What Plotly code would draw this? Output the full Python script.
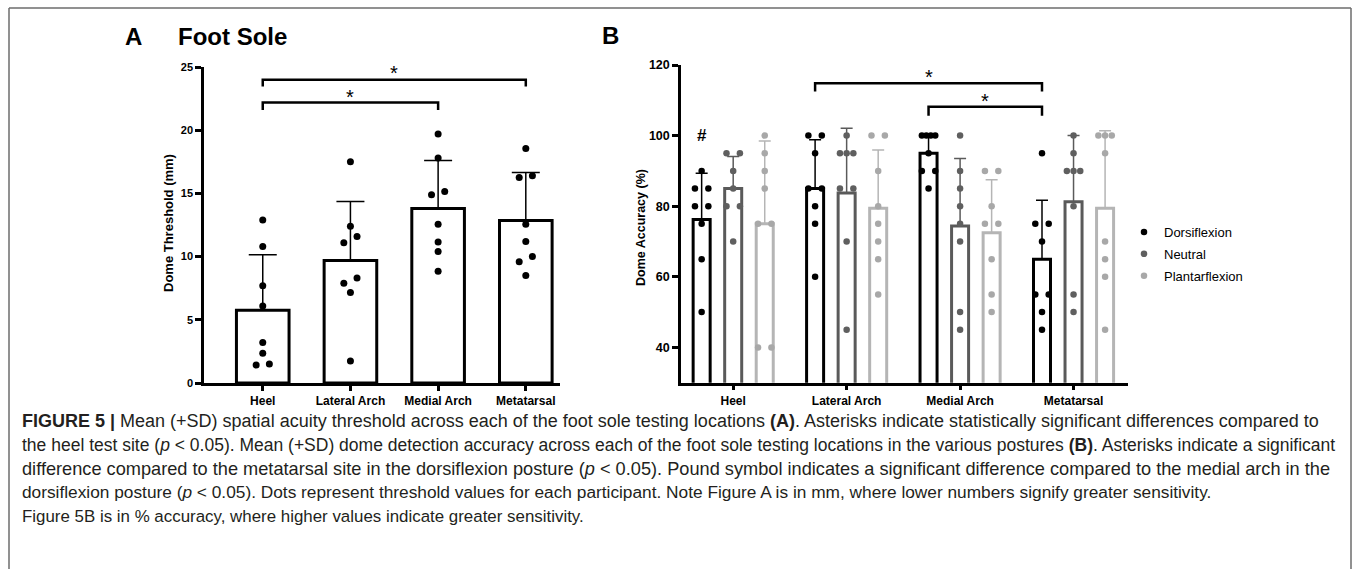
import numpy as np
import plotly.graph_objects as go

# ---------------- data ----------------
locations = ["Heel", "Lateral Arch", "Medial Arch", "Metatarsal"]

# Panel A: dome threshold (mm)
a_mean = [5.75, 9.7, 13.8, 12.85]
a_sd = [4.4, 4.65, 3.8, 3.8]
a_heel = [12.9, 10.8, 7.7, 6.1, 3.2, 2.35, 1.42, 1.5]
a_lateral = [17.5, 12.4, 11.6, 11.1, 8.3, 7.9, 7.15, 1.75]
a_medial = [19.7, 17.8, 15.15, 14.9, 12.55, 11.15, 10.4, 8.85]
a_metatarsal = [18.55, 16.4, 16.25, 12.55, 11.2, 10.0, 9.6, 8.5]
a_points = [a_heel, a_lateral, a_medial, a_metatarsal]

# Panel B: dome accuracy (%) by posture
postures = ["Dorsiflexion", "Neutral", "Plantarflexion"]
b_dorsi_mean = [76.25, 85.0, 95.0, 65.0]
b_neutral_mean = [85.0, 83.75, 74.4, 81.25]
b_plantar_mean = [75.0, 79.4, 72.5, 79.4]
b_dorsi_sd = [13.05, 13.8, 5.5, 16.7]
b_neutral_sd = [9.1, 18.35, 19.1, 18.75]
b_plantar_sd = [23.5, 16.5, 15.0, 22.0]
b_dorsi_points = [
    [90, 85, 85, 80, 80, 75, 65, 50],
    [100, 100, 95, 85, 85, 80, 75, 60],
    [100, 100, 100, 100, 95, 90, 90, 85],
    [95, 75, 75, 70, 55, 55, 50, 45],
]
b_neutral_points = [
    [95, 95, 90, 85, 80, 80, 70],
    [100, 95, 95, 95, 85, 85, 70, 45],
    [100, 90, 85, 80, 75, 70, 50, 45],
    [100, 95, 90, 90, 90, 80, 55, 50],
]
b_plantar_points = [
    [100, 95, 90, 85, 75, 75, 40, 40],
    [100, 100, 90, 80, 75, 70, 65, 55],
    [90, 90, 80, 75, 75, 65, 55, 50],
    [100, 100, 100, 95, 70, 65, 60, 45],
]

# ---------------- layout constants ----------------
W, H = 1355, 569
FONT = "Liberation Sans, Arial, sans-serif"

def px_x(p):
    return p / W

def px_y(p):
    return 1 - p / H

A_XDOM = [px_x(204), px_x(560)]
A_YDOM = [px_y(383), px_y(67)]
A_XR = [-0.67, 3.39]
A_YR = [0, 25]
B_XDOM = [px_x(681), px_x(1128)]
B_YDOM = [px_y(382.7), px_y(65)]
B_XR = [-0.46, 3.48]
B_YR = [30, 120]

def scales(xdom, ydom, xr, yr):
    ppx = (xdom[1] - xdom[0]) * W / (xr[1] - xr[0])
    ppy = (ydom[1] - ydom[0]) * H / (yr[1] - yr[0])
    return ppx, ppy

def swarm(values, ppx, ppy, slot_px, thresh_px=8.0):
    vals = np.asarray(values, dtype=float)
    order = np.argsort(vals, kind="stable")
    offs = np.zeros(len(vals))
    clusters, cur = [], [order[0]]
    for k in order[1:]:
        if (vals[k] - vals[cur[-1]]) * ppy < thresh_px:
            cur.append(k)
        else:
            clusters.append(cur)
            cur = [k]
    clusters.append(cur)
    for c in clusters:
        n = len(c)
        if n > 1:
            pos = np.linspace(-1, 1, n) * slot_px / ppx
            for k, p in zip(c, pos):
                offs[k] = p
    return offs

fig = go.Figure()

# ---------------- Panel A ----------------
a_ppx, a_ppy = scales(A_XDOM, A_YDOM, A_XR, A_YR)
xa = list(range(len(locations)))
fig.add_trace(go.Bar(
    x=xa, y=a_mean, width=0.6, xaxis="x", yaxis="y",
    marker=dict(color="white", line=dict(color="black", width=3)),
    error_y=dict(type="data", symmetric=False, array=a_sd, arrayminus=[0] * 4,
                 color="black", thickness=1.5, width=14),
    showlegend=False, hoverinfo="skip"))
for i, pts in enumerate(a_points):
    off = swarm(pts, a_ppx, a_ppy, 6.6)
    fig.add_trace(go.Scatter(
        x=i + off, y=pts, mode="markers", xaxis="x", yaxis="y",
        marker=dict(color="black", size=7), showlegend=False, hoverinfo="skip"))

# ---------------- Panel B ----------------
b_ppx, b_ppy = scales(B_XDOM, B_YDOM, B_XR, B_YR)
group_step = 0.278
bar_colors = ["#000000", "#5a5a5a", "#b5b5b5"]
pt_colors = ["#000000", "#5f5f5f", "#a8a8a8"]
b_means = [b_dorsi_mean, b_neutral_mean, b_plantar_mean]
b_sds = [b_dorsi_sd, b_neutral_sd, b_plantar_sd]
b_pts = [b_dorsi_points, b_neutral_points, b_plantar_points]
for k, name in enumerate(postures):
    off_k = (k - 1) * group_step
    fig.add_trace(go.Bar(
        x=[i + off_k for i in xa], y=b_means[k], width=0.15, xaxis="x2", yaxis="y2",
        marker=dict(color="white", line=dict(color=bar_colors[k], width=3)),
        error_y=dict(type="data", symmetric=False, array=b_sds[k], arrayminus=[0] * 4,
                     color=bar_colors[k], thickness=1.5, width=6),
        showlegend=False, hoverinfo="skip"))
for k, name in enumerate(postures):
    off_k = (k - 1) * group_step
    for i, pts in enumerate(b_pts[k]):
        off = swarm(pts, b_ppx, b_ppy, 6.7)
        fig.add_trace(go.Scatter(
            x=i + off_k + off, y=pts, mode="markers", xaxis="x2", yaxis="y2",
            marker=dict(color=pt_colors[k], size=6.5), name=name,
            legendgroup=name, showlegend=(i == 0), hoverinfo="skip"))

# ---------------- significance brackets ----------------
shapes = []
annotations = []

def bracket(x0, x1, ytop, yleg, xref, yref, star_y, text="*"):
    shapes.append(dict(type="path", xref=xref, yref=yref,
                       path=f"M {x0},{yleg} L {x0},{ytop} L {x1},{ytop} L {x1},{yleg}",
                       line=dict(color="black", width=2.5)))
    annotations.append(dict(x=(x0 + x1) / 2, y=star_y, xref=xref, yref=yref, text=text,
                            showarrow=False, font=dict(family=FONT, size=20, color="black"),
                            xanchor="center", yanchor="middle"))

bracket(0, 3, 24.0, 23.45, "x", "y", 24.5)
bracket(0, 2, 22.2, 21.6, "x", "y", 22.65)
bracket(1 - group_step, 3 - group_step, 114.8, 112.5, "x2", "y2", 116.6)
bracket(2 - group_step, 3 - group_step, 108.2, 105.6, "x2", "y2", 109.8)
annotations.append(dict(x=0 - group_step, y=100, xref="x2", yref="y2", text="<b>#</b>",
                        showarrow=False, font=dict(family=FONT, size=17, color="black")))

# ---------------- panel titles / axis titles ----------------
def ann_px(x, y, text, size, xanchor="center", yanchor="middle", angle=0, weight="bold", color="black"):
    annotations.append(dict(x=px_x(x), y=px_y(y), xref="paper", yref="paper", text=text,
                            showarrow=False, textangle=angle, xanchor=xanchor, yanchor=yanchor,
                            font=dict(family=FONT, size=size, color=color, weight=weight)))

ann_px(133, 37, "A", 24)
ann_px(176, 37, "Foot Sole", 24, xanchor="left")
ann_px(610, 36, "B", 24)
ann_px(169, 223, "Dome Threshold (mm)", 13, angle=-90)
ann_px(641, 228, "Dome Accuracy (%)", 12.5, angle=-90)

# ---------------- caption ----------------
caption = [
    "<b>FIGURE 5 |</b> Mean (+SD) spatial acuity threshold across each of the foot sole testing locations <b>(A)</b>. Asterisks indicate statistically significant differences compared to",
    "the heel test site (<i>p</i> &lt; 0.05). Mean (+SD) dome detection accuracy across each of the foot sole testing locations in the various postures <b>(B)</b>. Asterisks indicate a significant",
    "difference compared to the metatarsal site in the dorsiflexion posture (<i>p</i> &lt; 0.05). Pound symbol indicates a significant difference compared to the medial arch in the",
    "dorsiflexion posture (<i>p</i> &lt; 0.05). Dots represent threshold values for each participant. Note Figure A is in mm, where lower numbers signify greater sensitivity.",
    "Figure 5B is in % accuracy, where higher values indicate greater sensitivity.",
]
caption_sizes = [18.0, 17.5, 18.2, 17.3, 16.9]
for j, line in enumerate(caption):
    ann_px(20, 421 + j * 23.8, line, caption_sizes[j], xanchor="left", weight="normal",
           color="#231f20")

# ---------------- frame lines ----------------
frame = dict(color="#6d6d6d", width=1.5)
shapes.append(dict(type="line", xref="paper", yref="paper", x0=px_x(9), x1=px_x(1351),
                   y0=px_y(8), y1=px_y(8), line=frame))
shapes.append(dict(type="line", xref="paper", yref="paper", x0=px_x(9), x1=px_x(9),
                   y0=px_y(8), y1=0, line=frame))
shapes.append(dict(type="line", xref="paper", yref="paper", x0=px_x(1351), x1=px_x(1351),
                   y0=px_y(8), y1=0, line=frame))

axis_common = dict(showgrid=False, zeroline=False, showline=True, linecolor="black",
                   linewidth=2.5, ticks="outside", tickcolor="black", tickwidth=2.5)

fig.update_layout(
    width=W, height=H,
    margin=dict(l=0, r=0, t=0, b=0, autoexpand=False),
    paper_bgcolor="white", plot_bgcolor="white",
    barmode="overlay",
    font=dict(family=FONT, color="black"),
    xaxis=dict(domain=A_XDOM, range=A_XR, anchor="y", tickvals=xa, ticktext=locations,
               ticklen=5, tickfont=dict(family=FONT, size=12, weight="bold"), **axis_common),
    yaxis=dict(domain=A_YDOM, range=A_YR, anchor="x", tickvals=[0, 5, 10, 15, 20, 25],
               ticklen=6, tickfont=dict(family=FONT, size=11, weight="bold"), **axis_common),
    xaxis2=dict(domain=B_XDOM, range=B_XR, anchor="y2", tickvals=xa, ticktext=locations,
                ticklen=5, tickfont=dict(family=FONT, size=12, weight="bold"), **axis_common),
    yaxis2=dict(domain=B_YDOM, range=B_YR, anchor="x2", tickvals=[40, 60, 80, 100, 120],
                ticklen=6, tickfont=dict(family=FONT, size=12.5, weight="bold"), **axis_common),
    legend=dict(x=px_x(1124), y=px_y(217), xanchor="left", yanchor="top",
                font=dict(family=FONT, size=13, color="black"), bgcolor="rgba(0,0,0,0)",
                tracegroupgap=2, itemclick=False),
    shapes=shapes,
    annotations=annotations,
)

fig.write_html("out.html")
